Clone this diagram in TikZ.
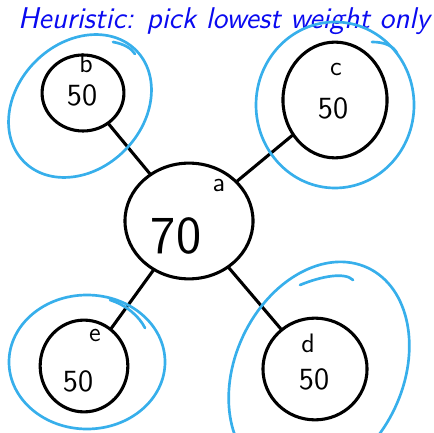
\documentclass[tikz,border=0pt]{standalone}
\usepackage{xcolor}
\usepackage{tikz}
\usetikzlibrary{positioning,shapes.geometric,calc}
\definecolor{titleblue}{RGB}{10,10,240}
\definecolor{ringblue}{RGB}{55,175,235}
\tikzset{
  weight-node/.style={draw=black, line width=1.5pt, ellipse, inner sep=0pt},
  ring-line/.style={draw=ringblue, line width=1.3pt, line cap=round},
  link-line/.style={draw=black, line width=1.5pt, line cap=round},
  name-text/.style={font=\sffamily\fontsize{13}{13}\selectfont, inner sep=0pt},
  weight-text/.style={font=\sffamily\fontsize{15}{15}\selectfont, inner sep=0pt},
  big-weight-text/.style={font=\sffamily\fontsize{26}{26}\selectfont, inner sep=0pt},
  title-text/.style={font=\sffamily\itshape\fontsize{14.6}{16}\selectfont, text=titleblue, inner sep=0pt}
}

\begin{document}
\begin{tikzpicture}[x=0.0171cm, y=-0.0171cm]
\useasboundingbox (0,0) rectangle (433,433);
\clip (0,0) rectangle (433,433);

% Title
\node[title-text] (title) at (224,21) {Heuristic: pick lowest weight only};

% Central node and its four neighbours
\node[weight-node, minimum width=2.19cm, minimum height=1.98cm] (a) at (189,221) {};
\node[weight-node, minimum width=1.40cm, minimum height=1.30cm] (b) at (83,93) {};
\node[weight-node, minimum width=1.78cm, minimum height=1.98cm] (c) at (335,100) {};
\node[weight-node, minimum width=1.78cm, minimum height=1.74cm] (d) at (315,369) {};
\node[weight-node, minimum width=1.50cm, minimum height=1.57cm] (e) at (84,366) {};

% Names and weights
\node[name-text] (a-name) at (219,186) {a};
\node[big-weight-text] (a-weight) at (176,236) {70};
\node[name-text] (b-name) at (86,63) {b};
\node[weight-text] (b-weight) at (82,95) {50};
\node[name-text] (c-name) at (336,70) {c};
\node[weight-text] (c-weight) at (333,108) {50};
\node[name-text] (d-name) at (308,343) {d};
\node[weight-text] (d-weight) at (314,379) {50};
\node[name-text] (e-name) at (95,336) {e};
\node[weight-text] (e-weight) at (78,381) {50};

% Connecting lines
\draw[link-line] (a) -- (b);
\draw[link-line] (a) -- (c);
\draw[link-line] (a) -- (d);
\draw[link-line] (a) -- (e);

% Blue rings around the neighbours (with the pen's overlap)
\draw[ring-line] (80,106) ellipse [x radius=79, y radius=63, rotate=45];
\draw[ring-line] (113,42) .. controls (124,44) and (131,48) .. (135,54);
\draw[ring-line] (335,105) ellipse [x radius=79, y radius=83];
\draw[ring-line] (372,42) .. controls (385,42) and (393,46) .. (397,53);
\draw[ring-line] (319,372) ellipse [x radius=84, y radius=115, rotate=-25];
\draw[ring-line] (300,285) .. controls (322,276) and (345,272) .. (353,280);
\draw[ring-line] (87,362) ellipse [x radius=78, y radius=67];
\draw[ring-line] (110,300) .. controls (126,305) and (139,316) .. (145,328);
\end{tikzpicture}
\end{document}
